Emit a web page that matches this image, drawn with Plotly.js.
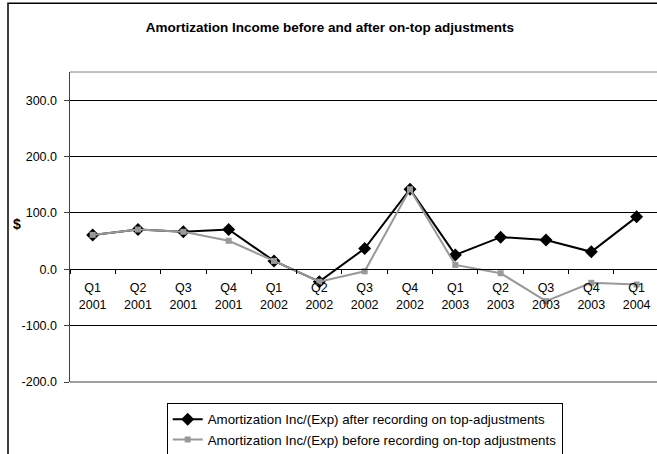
<!DOCTYPE html>
<html>
<head>
<meta charset="utf-8">
<script src="https://cdn.plot.ly/plotly-3.0.1.min.js"></script>
<style>
html,body{margin:0;padding:0;background:#fff;}
#chart{width:657px;height:454px;}
</style>
</head>
<body>
<div id="chart"></div>
<script>
var quarters = ["Q1<br>2001","Q2<br>2001","Q3<br>2001","Q4<br>2001","Q1<br>2002","Q2<br>2002","Q3<br>2002","Q4<br>2002","Q1<br>2003","Q2<br>2003","Q3<br>2003","Q4<br>2003","Q1<br>2004"];
var afterAdj = [61, 70.5, 66.5, 70.5, 14.8, -22, 36.8, 142, 25.5, 57, 52, 31, 93];
var beforeAdj = [61, 70.5, 66.5, 50.5, 14.8, -22, -3.6, 142, 7.7, -7, -56.6, -24, -27];
var yTicks = [-200, -100, 0, 100, 200, 300];
var seriesNames = ["Amortization Inc/(Exp) after recording on top-adjustments",
                   "Amortization Inc/(Exp) before recording on-top adjustments"];

var FONT = "Liberation Sans, Arial, sans-serif";

var traces = [
  {x: quarters, y: afterAdj, name: seriesNames[0], type: "scatter", mode: "lines+markers",
   line: {color: "#000000", width: 2},
   marker: {symbol: "diamond", size: 10, color: "#000000"}},
  {x: quarters, y: beforeAdj, name: seriesNames[1], type: "scatter", mode: "lines+markers",
   line: {color: "#999999", width: 2},
   marker: {symbol: "square", size: 6, color: "#999999"}}
];

var layout = {
  width: 657, height: 454,
  margin: {l: 70, r: 0, t: 71.7, b: 72.3, pad: 0, autoexpand: false},
  paper_bgcolor: "#ffffff", plot_bgcolor: "#ffffff",
  font: {family: FONT, size: 12.5, color: "#000"},
  showlegend: true,
  title: {text: "<b>Amortization Income before and after on-top adjustments</b>",
          font: {family: FONT, size: 13.5, color: "#000"},
          x: 0.502, xanchor: "center", xref: "container",
          y: 1 - 27/454, yanchor: "middle", yref: "container"},
  xaxis: {type: "category", range: [-0.5, 12.449], anchor: "free", position: 200/550,
          showline: true, linecolor: "#000", linewidth: 1,
          ticks: "outside", ticklen: 4, tickcolor: "#000", tickson: "boundaries",
          ticklabelstandoff: 7,
          showgrid: false, zeroline: false, fixedrange: true,
          tickfont: {family: FONT, size: 12.5, color: "#000"}},
  yaxis: {range: [-200, 350], tickvals: yTicks, ticktext: yTicks.map(function(v){return v.toFixed(1);}),
          showline: true, linecolor: "#404040", linewidth: 1.5,
          ticks: "outside", ticklen: 5, tickcolor: "#404040",
          ticklabelstandoff: 4,
          showgrid: true, gridcolor: "#000", gridwidth: 1, zeroline: false, fixedrange: true,
          tickfont: {family: FONT, size: 12.5, color: "#000"}},
  legend: {xref: "container", yref: "container", x: 166.7/657, xanchor: "left", y: 1 - 403/454, yanchor: "top",
           bordercolor: "#000", borderwidth: 1, bgcolor: "#fff",
           font: {family: FONT, size: 13.3, color: "#000"}, traceorder: "normal"},
  shapes: [
    {type: "line", xref: "paper", yref: "paper", x0: 0, x1: 1.02, y0: 1, y1: 1, line: {color: "#808080", width: 1}, layer: "above"},
    {type: "line", xref: "paper", yref: "paper", x0: 0, x1: 1.02, y0: 0, y1: 0, line: {color: "#808080", width: 1.5}, layer: "above"},
    {type: "rect", xref: "paper", yref: "paper", x0: (8-70)/587, x1: (662-70)/587, y0: (381.7-458)/310, y1: (381.7-3)/310,
     line: {color: "#000", width: 1.5}, layer: "above"}
  ],
  annotations: [
    {text: "<b>$</b>", xref: "paper", yref: "paper", x: (17-70)/587, y: (381.7-224)/310,
     xanchor: "center", yanchor: "middle", showarrow: false, font: {family: FONT, size: 14, color: "#000"}}
  ]
};

Plotly.newPlot("chart", traces, layout, {staticPlot: true, displayModeBar: false});
</script>
</body>
</html>
